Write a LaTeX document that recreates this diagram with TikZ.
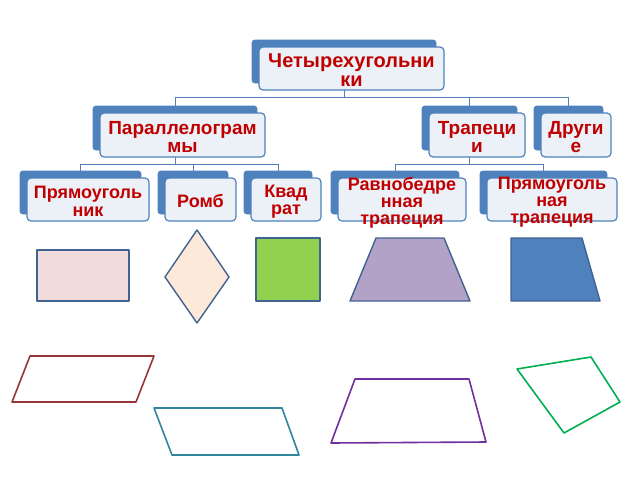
\documentclass[tikz,border=0pt]{standalone}
\usepackage{fontspec}
\setmainfont{Liberation Sans}
\definecolor{backblue}{RGB}{79,129,189}
\definecolor{frontfill}{RGB}{236,241,248}
\definecolor{linkblue}{RGB}{84,128,186}
\definecolor{labred}{RGB}{192,0,0}
\definecolor{shapeedge}{RGB}{65,99,143}
\definecolor{pinkfill}{RGB}{242,220,219}
\definecolor{peachfill}{RGB}{253,233,217}
\definecolor{greenfill}{RGB}{146,208,80}
\definecolor{lilacfill}{RGB}{178,162,199}
\definecolor{bluefill}{RGB}{79,129,189}
\definecolor{brownline}{RGB}{149,55,53}
\definecolor{tealline}{RGB}{49,133,156}
\definecolor{purpleline}{RGB}{112,48,160}
\definecolor{greenline}{RGB}{0,176,80}
\tikzset{
  backbox/.style={anchor=north west, inner sep=0pt, outer sep=0pt, fill=backblue, draw=backblue, rounded corners=3pt, line width=0.8pt},
  frontbox/.style={anchor=north west, inner sep=0pt, outer sep=0pt, fill=frontfill, draw=backblue, rounded corners=4pt, line width=1.2pt},
  lbl/.style={inner sep=0pt, align=center, text=labred, font=\bfseries},
  conn/.style={draw=linkblue, line width=0.9pt},
  solidshape/.style={draw=shapeedge, line width=1.4pt, line join=round},
  outline/.style={line width=1.6pt, line join=round}
}
\begin{document}
\begin{tikzpicture}[x=1pt,y=-1pt]
\useasboundingbox[fill=white] (0,0) rectangle (640,480);
% back boxes
\node[backbox, minimum width=184pt, minimum height=43pt] (topB) at (252,40) {};
\node[backbox, minimum width=164pt, minimum height=44pt] (parB) at (93,106) {};
\node[backbox, minimum width=95pt, minimum height=44pt] (trapB) at (422,106) {};
\node[backbox, minimum width=69pt, minimum height=44pt] (othB) at (534,106) {};
\node[backbox, minimum width=121pt, minimum height=43pt] (rectB) at (20,171) {};
\node[backbox, minimum width=70pt, minimum height=43pt] (rhB) at (158,171) {};
\node[backbox, minimum width=68pt, minimum height=43pt] (sqB) at (244,171) {};
\node[backbox, minimum width=128pt, minimum height=43pt] (isoB) at (331,171) {};
\node[backbox, minimum width=127pt, minimum height=43pt] (rtB) at (480,171) {};
% bus coordinates
\coordinate (bus1) at (0,97);
\coordinate (bus2) at (0,164);
% connectors
\draw[conn] (topB.south) -- (topB.south |- bus1) -| (parB.north);
\draw[conn] (topB.south |- bus1) -| (trapB.north);
\draw[conn] (topB.south |- bus1) -| (othB.north);
\draw[conn] (parB.south) -- (parB.south |- bus2) -| (rectB.north);
\draw[conn] (parB.south |- bus2) -| (rhB.north);
\draw[conn] (parB.south |- bus2) -| (sqB.north);
\draw[conn] (trapB.south) -- (trapB.south |- bus2) -| (isoB.north);
\draw[conn] (trapB.south |- bus2) -| (rtB.north);
% front boxes
\node[frontbox, minimum width=185pt, minimum height=43pt] (topF) at (259,47) {};
\node[frontbox, minimum width=165pt, minimum height=44pt] (parF) at (100,113) {};
\node[frontbox, minimum width=96pt, minimum height=44pt] (trapF) at (429,113) {};
\node[frontbox, minimum width=70pt, minimum height=44pt] (othF) at (541,113) {};
\node[frontbox, minimum width=122pt, minimum height=43pt] (rectF) at (27,178) {};
\node[frontbox, minimum width=71pt, minimum height=43pt] (rhF) at (165,178) {};
\node[frontbox, minimum width=70pt, minimum height=43pt] (sqF) at (251,178) {};
\node[frontbox, minimum width=128pt, minimum height=43pt] (isoF) at (338,178) {};
\node[frontbox, minimum width=130pt, minimum height=43pt] (rtF) at (487,178) {};
% labels
\node[lbl, font=\bfseries\fontsize{20}{19}\selectfont] (topL) at ([yshift=-2pt]topF.center) {Четырехугольни\\ки};
\node[lbl, font=\bfseries\fontsize{19}{18.5}\selectfont] (parL) at ([yshift=-2pt]parF.center) {Параллелограм\\мы};
\node[lbl, font=\bfseries\fontsize{19}{18.5}\selectfont] (trapL) at ([yshift=-2pt]trapF.center) {Трапеци\\и};
\node[lbl, font=\bfseries\fontsize{19}{18.5}\selectfont] (othL) at ([yshift=-2pt]othF.center) {Други\\е};
\node[lbl, font=\bfseries\fontsize{18}{17.5}\selectfont] (rectL) at ([yshift=-2pt]rectF.center) {Прямоуголь\\ник};
\node[lbl, font=\bfseries\fontsize{18}{17}\selectfont] (rhL) at ([yshift=-1pt]rhF.center) {Ромб};
\node[lbl, font=\bfseries\fontsize{18}{17.5}\selectfont] (sqL) at ([yshift=-2pt]sqF.center) {Квад\\рат};
\node[lbl, font=\bfseries\fontsize{18}{17}\selectfont] (isoL) at ([yshift=-3pt]isoF.center) {Равнобедре\\нная\\трапеция};
\node[lbl, font=\bfseries\fontsize{18}{17}\selectfont] (rtL) at ([yshift=-3pt]rtF.center) {Прямоуголь\\ная\\трапеция};
% filled shapes
\draw[solidshape, fill=pinkfill] (37,250) rectangle (129,301);
\draw[solidshape, fill=peachfill] (197,230) -- (229,277) -- (197,323) -- (165,277) -- cycle;
\draw[solidshape, fill=greenfill] (256,238) rectangle (320,301);
\draw[solidshape, fill=lilacfill] (376,238) -- (444,238) -- (470,301) -- (350,301) -- cycle;
\draw[solidshape, fill=bluefill] (511,238) -- (582,238) -- (600,301) -- (511,301) -- cycle;
% outlined shapes
\draw[outline, draw=brownline] (30,356) -- (154,356) -- (136,402) -- (12,402) -- cycle;
\draw[outline, draw=tealline] (154,408) -- (282,408) -- (299,455) -- (172,455) -- cycle;
\draw[outline, draw=purpleline] (355,379) -- (469,379) -- (486,442) -- (331,443) -- cycle;
\draw[outline, draw=greenline] (517,369) -- (591,357) -- (620,402) -- (564,433) -- cycle;
\end{tikzpicture}
\end{document}
